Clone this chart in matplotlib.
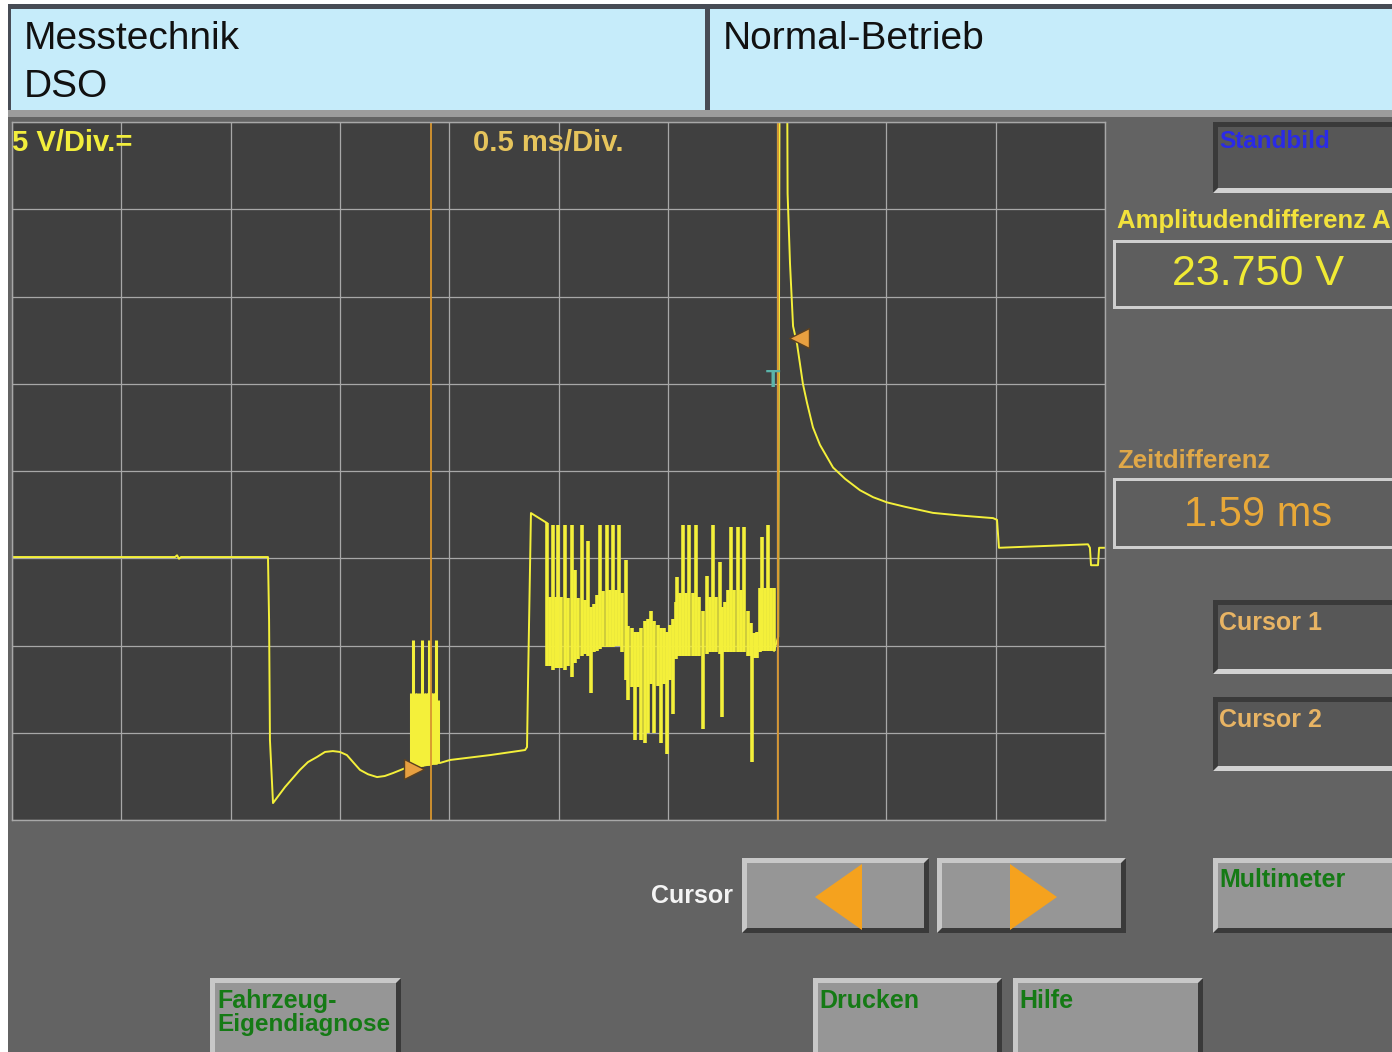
import numpy as np
import matplotlib.pyplot as plt
from matplotlib.patches import Rectangle, Polygon

plt.rcParams['font.family'] = ['Liberation Sans', 'DejaVu Sans']

W, H = 1392, 1052

# Messwerte: Zeit in ms (0.5 ms/Div), Spannung in V (5 V/Div)
pre_t = [0.0, 0.746, 0.755, 0.764, 0.773, 1.171, 1.176, 1.180, 1.194, 1.249, 1.317, 1.354, 1.395, 1.432, 1.468,
         1.500, 1.532, 1.560, 1.592, 1.629, 1.670, 1.705, 1.743, 1.812, 1.825, 1.949, 1.958, 2.004, 2.187, 2.347,
         2.356, 2.360, 2.374, 2.447]
pre_v = [15.07, 15.07, 15.17, 14.97, 15.07, 15.07, 11.46, 4.58, 0.97, 1.89, 2.87, 3.32, 3.61, 3.90, 3.95,
         3.90, 3.72, 3.32, 2.87, 2.62, 2.46, 2.52, 2.69, 3.04, 2.98, 3.27, 3.27, 3.44, 3.72, 4.01,
         4.18, 7.45, 17.59, 17.02]

# erster Burst (bei Cursor 1)
b1_t = [1.825, 1.834, 1.844, 1.853, 1.862, 1.866, 1.876, 1.885, 1.894, 1.903, 1.908, 1.917, 1.926, 1.935, 1.940, 1.949]
b1_lo = [3.0, 3.0, 3.1, 3.1, 3.1, 3.1, 3.1, 3.15, 3.15, 3.15, 3.15, 3.2, 3.2, 3.2, 3.2, 3.3]
b1_hi = [7.3, 10.3, 7.3, 7.3, 6.9, 7.3, 10.3, 7.3, 7.3, 7.3, 10.3, 7.3, 7.3, 7.3, 10.3, 6.9]

# zweiter Burst (Haltestrom-Takt)
b2_t = [2.447, 2.461, 2.475, 2.489, 2.498, 2.511, 2.530, 2.543, 2.562, 2.576,
        2.589, 2.608, 2.621, 2.635, 2.649, 2.662, 2.676, 2.690, 2.704, 2.722,
        2.736, 2.749, 2.763, 2.777, 2.791, 2.809, 2.818, 2.836, 2.850, 2.864,
        2.877, 2.896, 2.909, 2.923, 2.937, 2.955, 2.969, 2.983, 2.996, 3.010,
        3.024, 3.037, 3.044, 3.056, 3.069, 3.083, 3.097, 3.115, 3.129, 3.143, 3.161,
        3.179, 3.193, 3.207, 3.220, 3.239, 3.248, 3.262, 3.275, 3.289, 3.303,
        3.321, 3.335, 3.349, 3.367, 3.381, 3.387, 3.399, 3.408, 3.422, 3.431,
        3.445, 3.458, 3.472, 3.486]
b2_lo = [8.8, 8.8, 8.6, 8.7, 8.7, 8.7, 8.6, 8.8, 8.2, 9.0,
         9.2, 9.4, 9.5, 9.4, 7.3, 9.6, 9.7, 9.8, 9.9, 9.9,
         9.9, 9.9, 10.0, 10.0, 9.6, 8.0, 6.9, 7.6, 4.6, 7.6,
         4.6, 4.4, 5.0, 7.8, 5.0, 7.7, 4.4, 7.8, 3.8, 8.0,
         6.1, 9.2, 9.4, 9.4, 9.4, 9.4, 9.4, 9.4, 9.4, 9.4, 5.2,
         9.5, 9.6, 9.6, 9.6, 9.5, 5.9, 9.6, 9.6, 9.6, 9.6,
         9.6, 9.6, 9.6, 9.4, 9.4, 3.3, 9.3, 9.3, 9.6, 9.7,
         9.7, 9.7, 9.7, 9.7]
b2_hi = [17.0, 12.8, 16.9, 12.8, 16.9, 12.8, 16.9, 12.7, 16.9, 14.3,
         12.7, 16.9, 12.6, 16.0, 12.2, 12.4, 12.9, 16.9, 13.1, 16.9,
         13.2, 16.9, 13.2, 16.9, 13.0, 14.9, 11.1, 11.0, 10.8, 10.8,
         11.0, 11.4, 11.5, 12.0, 11.4, 11.2, 11.0, 11.0, 10.8, 11.2,
         11.5, 12.5, 13.9, 13.0, 16.9, 13.0, 16.9, 13.0, 16.9, 12.8, 12.0,
         14.0, 12.8, 16.9, 12.8, 14.8, 12.2, 12.5, 13.2, 16.8, 13.2,
         16.8, 13.2, 16.8, 12.0, 11.3, 10.7, 10.7, 10.8, 13.3, 16.2,
         13.3, 16.9, 13.3, 13.3]

# Abschaltspitze und Abklingen
post_t = [3.486, 3.505, 3.512, 3.545, 3.548, 3.559, 3.573, 3.591, 3.618, 3.637, 3.664, 3.696, 3.756, 3.811,
          3.879, 3.939, 4.003, 4.085, 4.213, 4.337, 4.488, 4.506, 4.515, 4.922, 4.931, 4.936, 4.968, 4.973, 5.0]
post_v = [9.7, 10.5, 46.0, 46.0, 35.9, 31.9, 28.3, 27.3, 25.0, 23.9, 22.5, 21.5, 20.2, 19.55,
          18.9, 18.5, 18.2, 17.95, 17.6, 17.45, 17.3, 17.2, 15.6, 15.8, 15.6, 14.6, 14.6, 15.6, 15.6]

cursor_t = [1.915, 3.505]
cursor_mark_t = [1.840, 3.600]
cursor_mark_v = [2.9, 27.6]

yellow = '#f4f03a'
green = '#157a15'

fig = plt.figure(figsize=(W / 100, H / 100), dpi=100)
fig.patch.set_facecolor('white')
ui = fig.add_axes([0, 0, 1, 1])
ui.set_xlim(0, W)
ui.set_ylim(H, 0)
ui.axis('off')


def box(x0, y0, x1, y1, fc):
    ui.add_patch(Rectangle((x0, y0), x1 - x0, y1 - y0, facecolor=fc, edgecolor='none'))


def button(x0, y0, x1, y1, raised=True, b=5):
    if raised:
        face, tl, br = '#969696', '#c8c8c8', '#3a3a3a'
    else:
        face, tl, br = '#575757', '#3a3a3a', '#d2d2d2'
    box(x0, y0, x1, y1, br)
    ui.add_patch(Polygon([(x0, y0), (x1, y0), (x1 - b, y0 + b), (x0 + b, y0 + b), (x0 + b, y1 - b), (x0, y1)],
                         facecolor=tl, edgecolor='none'))
    box(x0 + b, y0 + b, x1 - b, y1 - b, face)


def frame(x0, y0, x1, y1):
    box(x0, y0, x1, y1, '#cfcfcf')
    box(x0 + 3, y0 + 3, x1 + 5, y1 - 3, '#5e5e5e')


def label(x, y, s, size, color, weight='bold', ha='left'):
    fig.text(x / W, 1 - y / H, s, fontsize=size, color=color, fontweight=weight, ha=ha, va='center')


# Hintergrund und Kopfzeile
box(8, 4, W, H, '#636363')
box(8, 4, W, 116, '#474c55')
box(11, 9, 705, 110, '#c6ecfa')
box(710, 9, W, 110, '#c6ecfa')
box(8, 110, W, 117, '#9c9c9c')

# rechte Spalte
button(1213, 122, W + 10, 193, raised=False)
frame(1113, 240, W, 309)
frame(1113, 478, W, 549)
button(1213, 600, W + 10, 674, raised=False)
button(1213, 697, W + 10, 771, raised=False)

# untere Knöpfe
button(742, 858, 929, 933)
button(937, 858, 1126, 933)
button(1213, 858, W + 10, 933)
button(210, 978, 401, H + 8)
button(813, 978, 1002, H + 8)
button(1013, 978, 1203, H + 8)
ui.add_patch(Polygon([(815, 897), (862, 864), (862, 930)], facecolor='#f5a21e', edgecolor='none'))
ui.add_patch(Polygon([(1057, 897), (1010, 864), (1010, 930)], facecolor='#f5a21e', edgecolor='none'))

# Oszilloskop-Bildschirm
ax = fig.add_axes([12 / W, 1 - 820 / H, (1105 - 12) / W, (820 - 122) / H])
ax.set_facecolor('#404040')
ax.set_xlim(0, 5)
ax.set_ylim(0, 40)
ax.set_xticks(np.arange(0, 5.01, 0.5))
ax.set_yticks(np.arange(0, 40.1, 5))
ax.grid(True, color='#a8a8a8', lw=0.9)
ax.set_axisbelow(True)
ax.tick_params(length=0, labelbottom=False, labelleft=False)
for s in ax.spines.values():
    s.set_color('#a8a8a8')
    s.set_linewidth(1.0)

ax.plot(pre_t, pre_v, color=yellow, lw=1.4)
ax.vlines(b1_t, b1_lo, b1_hi, color=yellow, lw=2.2)
ax.vlines(b2_t, b2_lo, b2_hi, color=yellow, lw=2.6)
ax.plot(post_t, post_v, color=yellow, lw=1.4)
for t in cursor_t:
    ax.axvline(t, color='#d8962e', lw=1.3)
ax.plot(cursor_mark_t[0], cursor_mark_v[0], marker='>', ms=14, color='#e8a040', mec='#5a4020')
ax.plot(cursor_mark_t[1], cursor_mark_v[1], marker='<', ms=14, color='#e8a040', mec='#5a4020')
ax.text(3.48, 25.2, 'T', color='#5ab4aa', fontsize=17, fontweight='bold', ha='center', va='center')

# Beschriftungen
label(24, 39, 'Messtechnik', 28, '#111111', 'normal')
label(24, 87, 'DSO', 28, '#111111', 'normal')
label(723, 39, 'Normal-Betrieb', 28, '#111111', 'normal')
label(12, 143, '5 V/Div.=', 21, '#f2ee3c')
label(473, 143, '0.5 ms/Div.', 21, '#e6c45c')
label(1219, 142, 'Standbild', 17.5, '#2a2ae6')
label(1117, 221, 'Amplitudendifferenz A', 18.5, '#f2e23c')
label(1258, 274, '23.750 V', 31, '#f0ea34', 'normal', 'center')
label(1117, 461, 'Zeitdifferenz', 18.5, '#e0a848')
label(1258, 515, '1.59 ms', 30, '#e8a838', 'normal', 'center')
label(1219, 623, 'Cursor 1', 18, '#e8b464')
label(1219, 720, 'Cursor 2', 18, '#e8b464')
label(733, 896, 'Cursor', 18, '#f4f4f4', ha='right')
label(1219, 880, 'Multimeter', 18, green)
label(217, 1001, 'Fahrzeug-', 18, green)
label(217, 1025, 'Eigendiagnose', 17.5, green)
label(819, 1001, 'Drucken', 18, green)
label(1019, 1001, 'Hilfe', 18, green)

fig.savefig('out.png', dpi=100)
